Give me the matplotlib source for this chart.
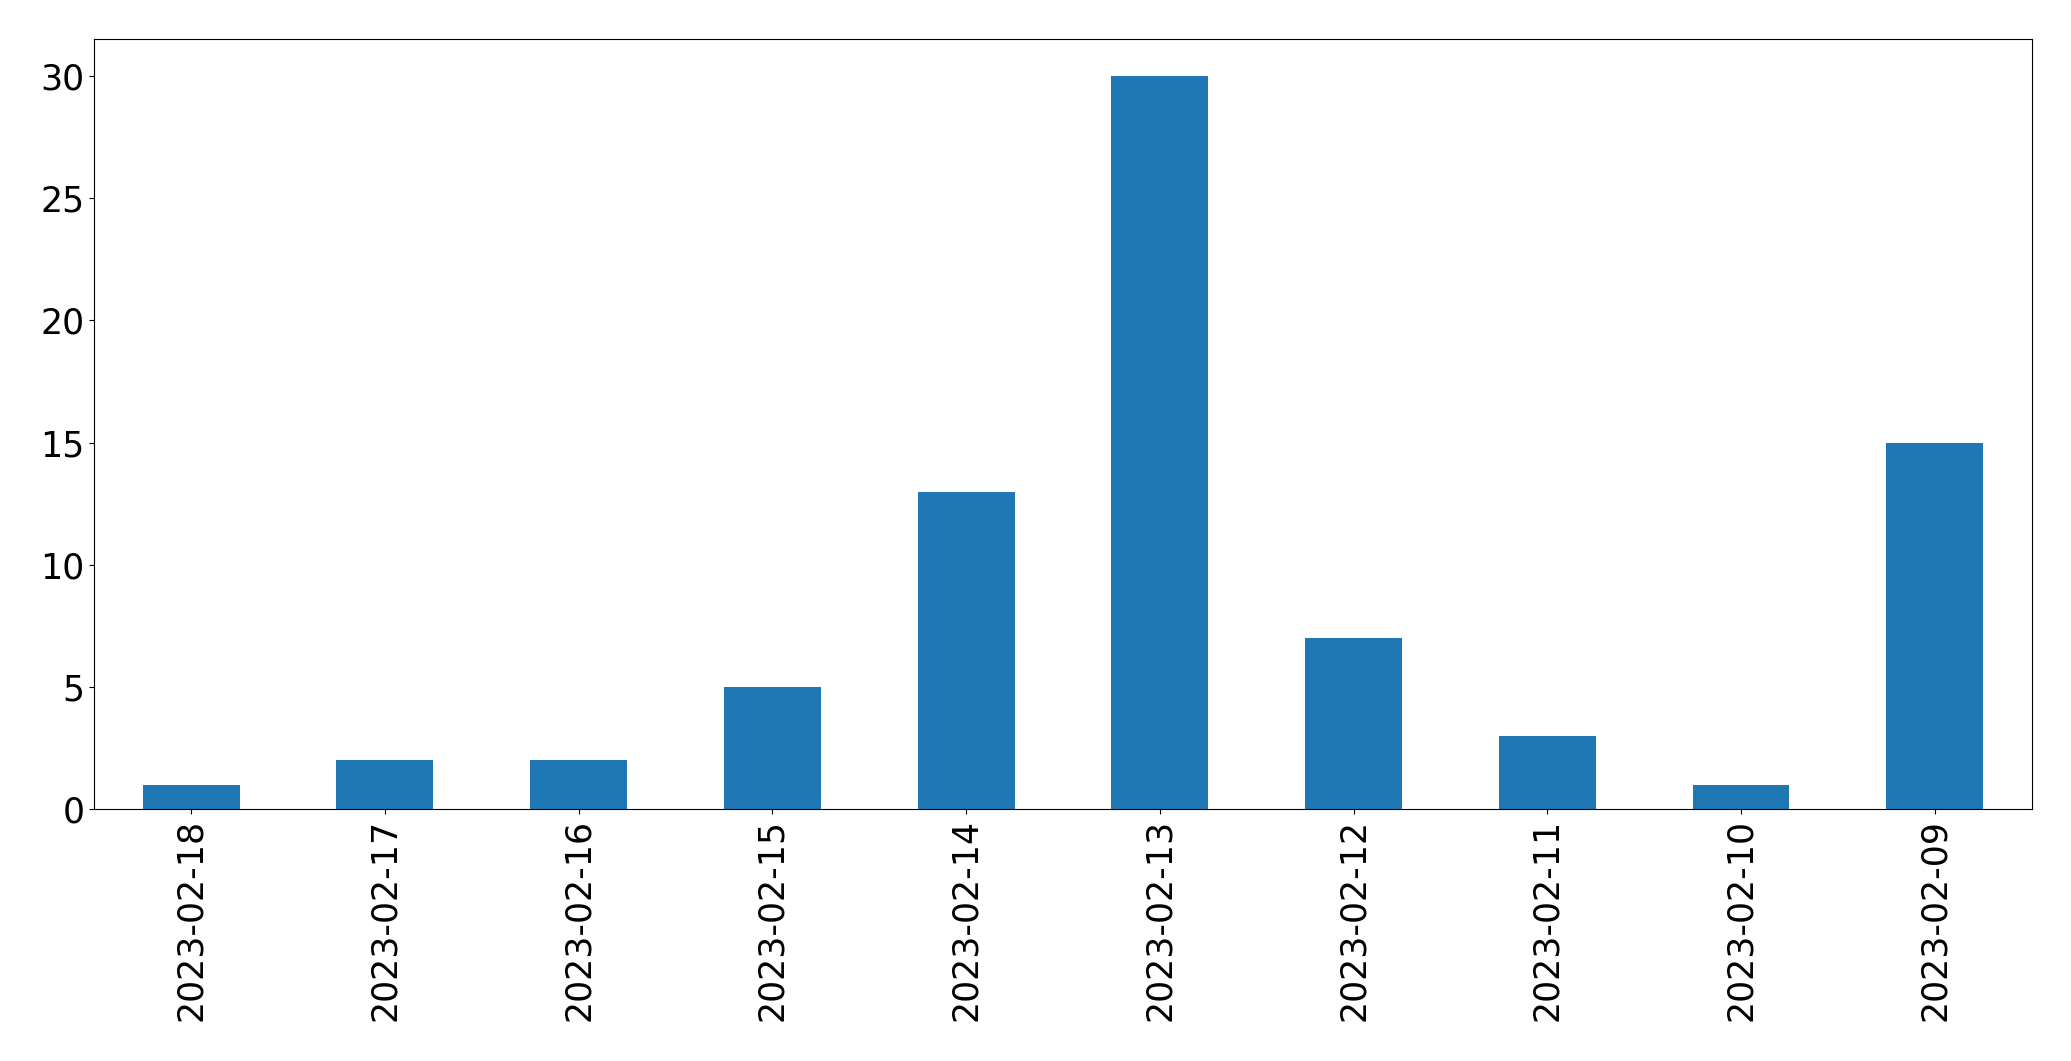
import matplotlib
matplotlib.use('Agg')
import matplotlib.pyplot as plt

dates = ['2023-02-18', '2023-02-17', '2023-02-16', '2023-02-15', '2023-02-14',
         '2023-02-13', '2023-02-12', '2023-02-11', '2023-02-10', '2023-02-09']
counts = [1, 2, 2, 5, 13, 30, 7, 3, 1, 15]

fig = plt.figure(figsize=(20.71, 10.61), dpi=100)
ax = fig.add_axes([0.0455, 0.2372, 0.9355, 0.7258])
x = range(len(dates))
ax.bar(x, counts, width=0.5, color='#1f77b4')
ax.set_xticks(list(x))
ax.set_xticklabels(dates, rotation=90)
ax.set_xlim(-0.5, len(dates) - 0.5)
ax.set_ylim(0, 31.5)
ax.tick_params(labelsize=25)
fig.savefig('out.png', dpi=100)
